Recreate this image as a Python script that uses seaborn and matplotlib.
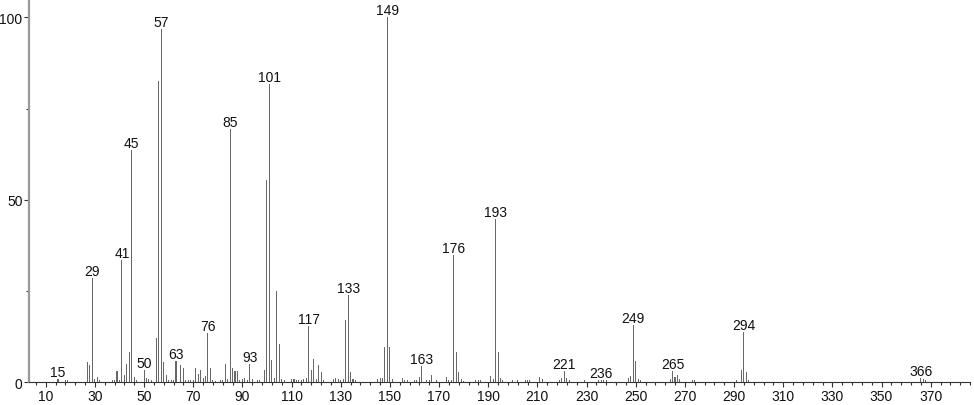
import pandas as pd
import matplotlib
matplotlib.use("Agg")
import matplotlib.pyplot as plt
from matplotlib.ticker import MultipleLocator, AutoMinorLocator
import seaborn as sns

# m/z values and relative intensities
mz = [15, 18, 19, 27, 28, 29, 30, 31, 32, 37, 38, 39, 40, 41, 42, 43, 44, 45, 46, 47,
      50, 51, 52, 53, 55, 56, 57, 58, 59, 60, 61, 62, 63, 65, 66, 67, 68, 69, 70,
      71, 72, 73, 74, 75, 76, 77, 78, 79, 81, 82, 83, 84, 85, 86, 87, 88, 89, 90,
      91, 92, 93, 94, 96, 97, 99, 100, 101, 102, 103, 104, 105, 106, 107,
      110, 111, 112, 113, 114, 115, 116, 117, 118, 119, 120, 121, 122, 123,
      127, 128, 129, 130, 131, 132, 133, 134, 135, 136,
      145, 146, 147, 148, 149, 150, 151, 155, 156, 157, 160, 161, 162, 163,
      165, 166, 167, 169, 173, 174, 175, 176, 177, 178, 179, 180,
      185, 186, 187, 191, 192, 193, 194, 195, 196, 200, 202, 205, 206, 207,
      211, 212, 219, 220, 221, 222, 223, 229, 235, 236, 237, 238,
      247, 248, 249, 250, 251, 252, 264, 265, 266, 267, 268, 273, 274,
      291, 293, 294, 295, 296, 366, 367, 368]
intensity = [1.0, 0.6, 0.6, 5.5, 4.7, 28.5, 0.9, 1.4, 0.6, 0.5, 0.5, 3.2, 0.5, 33.5, 2.0, 5.0, 8.3, 63.5, 1.4, 0.6,
             3.3, 1.2, 0.8, 0.6, 12.0, 82.5, 96.8, 5.5, 2.1, 0.6, 0.7, 0.5, 5.7, 4.8, 4.0, 0.6, 0.6, 0.6, 0.6,
             4.0, 2.4, 3.3, 1.1, 1.6, 13.5, 4.0, 0.6, 0.4, 0.5, 0.5, 5.0, 1.0, 69.5, 4.0, 3.0, 3.2, 0.6, 0.8,
             1.2, 0.6, 5.0, 0.8, 0.5, 0.5, 3.4, 55.5, 81.7, 6.2, 1.2, 25.0, 10.6, 1.0, 0.5,
             0.9, 1.0, 0.6, 0.6, 0.6, 1.0, 1.2, 15.5, 3.5, 6.3, 1.0, 4.8, 2.8, 0.5,
             0.9, 1.2, 1.0, 0.5, 1.0, 17.0, 24.0, 2.8, 1.0, 0.5,
             1.0, 1.2, 1.2, 9.7, 100.0, 9.7, 1.0, 1.1, 0.7, 0.5, 0.5, 0.6, 1.4, 4.4,
             0.5, 0.5, 2.0, 0.5, 1.5, 0.6, 0.6, 34.8, 8.2, 2.8, 1.0, 0.4,
             0.5, 0.5, 0.6, 1.8, 1.0, 44.8, 8.4, 1.2, 0.5, 0.5, 0.5, 0.6, 0.5, 0.5,
             1.5, 0.8, 0.5, 1.3, 3.1, 1.2, 0.5, 0.6, 0.5, 0.6, 0.6, 0.5,
             1.3, 1.6, 15.8, 5.9, 1.0, 0.5, 1.0, 3.1, 1.4, 1.9, 0.8, 0.5, 0.5,
             0.5, 3.4, 13.9, 2.7, 0.5, 1.3, 1.0, 0.7]

# peaks that carry a text label
labelled = [15, 29, 41, 45, 50, 57, 63, 76, 85, 93, 101, 117, 133, 149,
            163, 176, 193, 221, 236, 249, 265, 294, 366]

df = pd.DataFrame({'mz': mz, 'intensity': intensity})

sns.set_style("ticks")
plt.rcParams['font.family'] = ['Liberation Sans', 'DejaVu Sans']

fig = plt.figure(figsize=(9.74, 4.06), dpi=100)
ax = fig.add_axes([29 / 974, 22.7 / 406, 941 / 974, 383.3 / 406])

sns.histplot(data=df, x='mz', weights='intensity', discrete=True, shrink=0.42,
             color='#686868', alpha=1, linewidth=0, ax=ax)

for m in labelled:
    val = df.loc[df['mz'] == m, 'intensity'].iloc[0]
    ax.annotate(str(m), xy=(m, val), xytext=(0, 0), textcoords='offset points',
                ha='center', va='bottom', fontsize=10, color='#111111')

ax.set_xlim(3.2, 386)
ax.set_ylim(0, 105)
ax.set_xlabel('')
ax.set_ylabel('')

ax.xaxis.set_major_locator(MultipleLocator(20, offset=10))
ax.xaxis.set_minor_locator(AutoMinorLocator(5))
ax.yaxis.set_major_locator(MultipleLocator(50))
ax.yaxis.set_minor_locator(AutoMinorLocator(2))
ax.tick_params(axis='both', which='major', length=3.6, width=0.8, color='#333333',
               labelsize=10, labelcolor='#111111', pad=1)
ax.tick_params(axis='both', which='minor', length=2.2, width=0.8, color='#333333')

sns.despine(ax=ax)
ax.spines['left'].set_color('#999999')
ax.spines['left'].set_linewidth(1.6)
ax.spines['bottom'].set_color('#333333')
ax.spines['bottom'].set_linewidth(0.8)

fig.savefig('out.png', dpi=100)
plt.close()
